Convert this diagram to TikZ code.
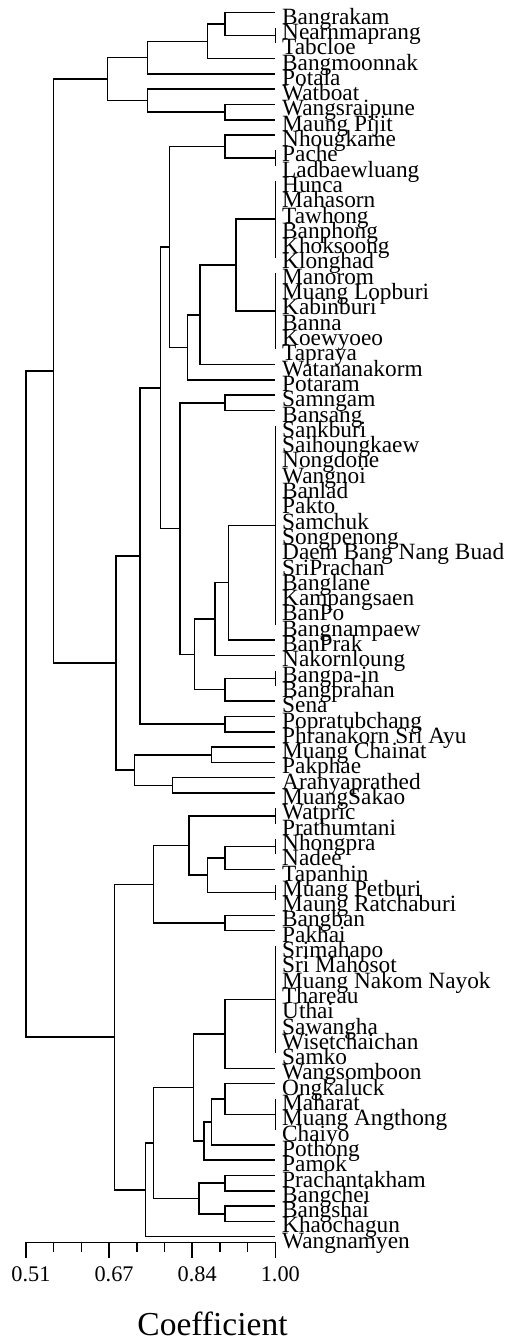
\documentclass[tikz,border=0pt]{standalone}
\usepackage{fontspec}
\setmainfont{Liberation Serif}
\usetikzlibrary{calc}
\tikzset{
  tree/.style={line width=1.5pt, black},
  leaf/.style={anchor=base west, inner sep=0pt, font=\fontsize{23.3}{23.3}\selectfont},
  ticklab/.style={anchor=base, inner sep=0pt, font=\fontsize{22.3}{22.3}\selectfont},
}
\newcommand\dmerge[4]{%
  \path let \p1=($(#3)!0.5!(#4)$) in coordinate (#1) at (#2pt,\y1);
  \draw[tree] (#1) |- (#3) (#1) |- (#4);}
\begin{document}
\begin{tikzpicture}[x=1pt,y=-1pt]
\useasboundingbox (0,0) rectangle (508,1340);
\foreach \t [count=\i] in {Bangrakam,Nearnmaprang,Tabcloe,Bangmoonnak,Potala,Watboat,Wangsraipune,Maung Pijit,Nhougkame,Pache,Ladbaewluang,Hunca,Mahasorn,Tawhong,Banphong,Khoksoong,Klonghad,Manorom,Muang Lopburi,Kabinburi,Banna,Koewyoeo,Tapraya,Watananakorm,Potaram,Samngam,Bansang,Sankburi,Saihoungkaew,Nongdone,Wangnoi,Banlad,Pakto,Samchuk,Songpenong,Daem Bang Nang Buad,SriPrachan,Banglane,Kampangsaen,BanPo,Bangnampaew,BanPrak,Nakornloung,Bangpa-in,Bangprahan,Sena,Popratubchang,Phranakorn Sri Ayu,Muang Chainat,Pakphae,Aranyaprathed,MuangSakao,Watpric,Prathumtani,Nhongpra,Nadee,Tapanhin,Muang Petburi,Maung Ratchaburi,Bangban,Pakhai,Srimahapo,Sri Mahosot,Muang Nakom Nayok,Thareau,Uthai,Sawangha,Wisetchaichan,Samko,Wangsomboon,Ongkaluck,Maharat,Muang Angthong,Chaiyo,Pothong,Pamok,Prachantakham,Bangchei,Bangshai,Khaochagun,Wangnamyen} {
  \pgfmathsetmacro\yy{12.7+15.3*(\i-1)}
  \coordinate (L\i) at (275.3,\yy);
  \node[leaf] (T\i) at (282,\yy+11.5) {\t};
}
% first group
\dmerge{A}{275.3}{L2}{L3}
\dmerge{B}{225}{L1}{A}
\dmerge{C}{207.7}{B}{L4}
\dmerge{D}{147.7}{C}{L5}
\dmerge{E}{225}{L7}{L8}
\dmerge{F}{147.7}{L6}{E}
\dmerge{G}{107.7}{D}{F}
% second group
\dmerge{H}{275.3}{L10}{L11}
\dmerge{I}{225}{L9}{H}
\dmerge{J1}{275.3}{L12}{L17}
\dmerge{J2}{275.3}{L18}{L23}
\dmerge{K}{236}{J1}{J2}
\dmerge{M}{200}{K}{L24}
\dmerge{N}{187.3}{M}{L25}
\dmerge{O}{169.3}{I}{N}
\dmerge{P}{225}{L26}{L27}
\dmerge{Q}{275.3}{L28}{L41}
\dmerge{R}{228.3}{Q}{L42}
\dmerge{S}{215}{R}{L43}
\dmerge{T}{275.3}{L44}{L45}
\dmerge{U}{225}{T}{L46}
\dmerge{V}{194.3}{S}{U}
\dmerge{W}{180}{P}{V}
\dmerge{X}{160.3}{O}{W}
\dmerge{Y}{225}{L47}{L48}
\dmerge{Z}{140}{X}{Y}
\dmerge{AA}{211.7}{L49}{L50}
\dmerge{AB}{172.3}{L51}{L52}
\dmerge{AC}{134.7}{AA}{AB}
\dmerge{AD}{116}{Z}{AC}
\dmerge{AE}{53.3}{G}{AD}
% third group
\dmerge{BA}{275.3}{L53}{L54}
\dmerge{BB}{275.3}{L55}{L56}
\dmerge{BC}{225}{BB}{L57}
\dmerge{BD}{275.3}{L58}{L59}
\dmerge{BE}{207.7}{BC}{BD}
\dmerge{BF}{189}{BA}{BE}
\dmerge{BG}{225}{L60}{L61}
\dmerge{BH}{153.3}{BF}{BG}
\dmerge{BI}{275.3}{L62}{L69}
\dmerge{BJ}{225}{BI}{L70}
\dmerge{BK}{275.3}{L72}{L74}
\dmerge{BL}{225}{L71}{BK}
\dmerge{BM}{211.7}{BL}{L75}
\dmerge{BN}{204}{BM}{L76}
\dmerge{BO}{193.3}{BJ}{BN}
\dmerge{BP}{225}{L77}{L78}
\dmerge{BQ}{225}{L79}{L80}
\dmerge{BR}{199}{BP}{BQ}
\dmerge{BS}{153.3}{BO}{BR}
\dmerge{BT}{145.7}{BS}{L81}
\dmerge{BU}{114.3}{BH}{BT}
\dmerge{ROOT}{26}{AE}{BU}
% axis
\coordinate (ax0) at (26,1242.3);
\coordinate (ax1) at (275.3,1242.3);
\draw[tree] (ax0) -- (ax1);
\foreach \k in {1,2,4,5,7,8} {\draw[tree] (26+27.7*\k,1242.3) -- ++(0,9.3);}
\foreach \k/\lab in {0/0.51,3/0.67,6/0.84,9/1.00} {
  \draw[tree] (26+27.7*\k,1242.3) -- ++(0,16);
  \node[ticklab] (tl\k) at (31+27.7*\k,1281.7) {\lab};
}
\node[anchor=base, inner sep=0pt, font=\fontsize{33.5}{33.5}\selectfont] (coef) at (212.5,1335) {Coefficient};
\end{tikzpicture}
\end{document}
